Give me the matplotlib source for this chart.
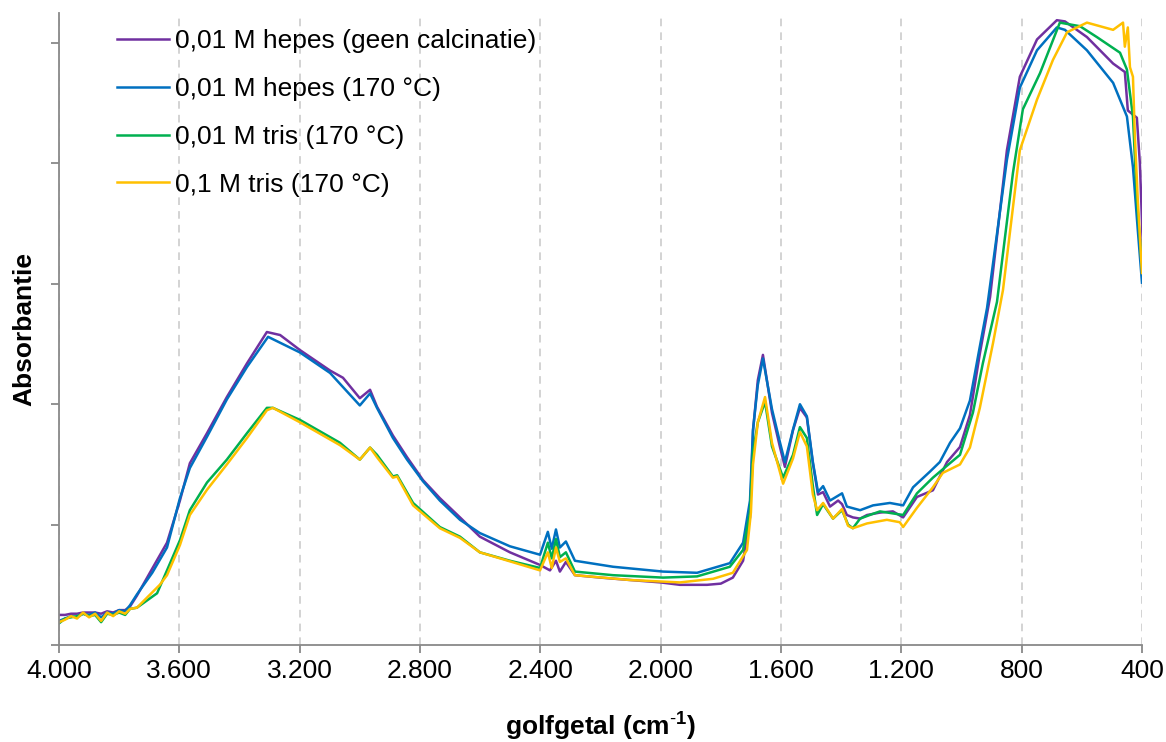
import matplotlib
matplotlib.use("Agg")
import matplotlib.pyplot as plt

plt.rcParams['font.family'] = ['Liberation Sans', 'DejaVu Sans']
plt.rcParams['mathtext.fontset'] = 'custom'
plt.rcParams['mathtext.rm'] = 'Liberation Sans'
plt.rcParams['mathtext.bf'] = 'Liberation Sans:bold'
plt.rcParams['mathtext.default'] = 'bf'

# ---- data (wavenumber in cm-1, absorbance in arbitrary units) ----
labels = ["0,01 M hepes (geen calcinatie)", "0,01 M hepes (170 °C)",
          "0,01 M tris (170 °C)", "0,1 M tris (170 °C)"]
colors = ["#7030A0", "#0070C0", "#00B050", "#FFC000"]

wn_hepes_raw = [4000,3980,3960,3940,3920,3900,3880,3860,3840,3820,3800,3780,3764,
    3741,3698,3641,3598,3565,3508,3442,3375,3309,3265,
    3199,3099,3056,3000,2966,2943,2890,2843,2790,2734,
    2667,2601,2501,2401,2368,2348,2335,2315,2285,2200,
    2102,2000,1936,1846,1800,1760,1726,1703,1693,1677,
    1660,1630,1603,1587,1560,1537,1514,1494,1477,1460,
    1437,1410,1397,1381,1361,1337,1314,1271,1228,1194,
    1148,1095,1048,1005,972,939,905,849,806,749,
    683,656,583,496,457,447,417,407,397]
abs_hepes_raw = [0.25,0.25,0.26,0.26,0.27,0.27,0.27,0.26,0.28,0.27,0.29,0.29,0.32,
    0.41,0.60,0.85,1.20,1.51,1.76,2.06,2.34,2.60,2.575,
    2.45,2.28,2.22,2.05,2.12,1.98,1.74,1.56,1.37,1.22,
    1.06,0.90,0.77,0.665,0.62,0.70,0.61,0.69,0.58,0.56,
    0.54,0.52,0.50,0.50,0.51,0.56,0.70,1.06,1.78,2.20,
    2.41,1.93,1.64,1.48,1.785,1.97,1.89,1.51,1.25,1.27,
    1.15,1.20,1.17,1.08,1.06,1.05,1.08,1.10,1.11,1.06,
    1.23,1.285,1.52,1.645,1.91,2.42,2.89,4.11,4.72,5.03,
    5.19,5.18,5.05,4.83,4.76,4.44,4.38,4.00,3.31]

wn_hepes_170 = [4000,3980,3960,3940,3920,3900,3880,3860,3840,3820,3800,3780,3764,
    3741,3690,3641,3598,3565,3508,3442,3375,3305,3199,
    3099,3000,2966,2943,2890,2843,2790,2734,2667,2601,
    2501,2401,2375,2362,2348,2335,2315,2285,2158,1992,
    1879,1770,1726,1703,1693,1677,1660,1630,1603,1587,
    1560,1537,1514,1494,1477,1460,1437,1397,1381,1337,
    1294,1238,1194,1161,1105,1072,1038,1005,972,939,
    915,849,806,749,683,656,583,496,473,450,
    430,414,400]
abs_hepes_170 = [0.20,0.22,0.24,0.23,0.26,0.25,0.27,0.23,0.27,0.26,0.29,0.28,0.33,
    0.42,0.60,0.81,1.22,1.47,1.73,2.04,2.31,2.56,2.43,
    2.26,1.99,2.09,1.97,1.72,1.54,1.36,1.20,1.04,0.93,
    0.82,0.75,0.94,0.80,0.96,0.81,0.86,0.70,0.65,0.61,
    0.60,0.68,0.85,1.20,1.79,2.16,2.38,1.96,1.68,1.52,
    1.79,2.00,1.90,1.52,1.27,1.32,1.20,1.26,1.15,1.12,
    1.16,1.18,1.16,1.31,1.44,1.52,1.68,1.80,2.03,2.48,
    2.80,4.03,4.63,4.94,5.13,5.11,4.94,4.67,4.53,4.39,
    3.97,3.45,3.01]

wn_tris001 = [4000,3980,3960,3940,3920,3900,3880,3860,3840,3820,3800,3780,3764,
    3741,3674,3641,3598,3565,3508,3442,3375,3309,3289,
    3199,3122,3066,3000,2966,2943,2890,2876,2823,2734,
    2667,2601,2501,2401,2375,2362,2348,2335,2315,2285,
    2158,1992,1879,1770,1726,1703,1693,1677,1653,1630,
    1593,1560,1537,1514,1494,1480,1460,1427,1397,1377,
    1361,1337,1294,1271,1194,1148,1095,1048,1005,962,
    929,882,829,796,739,673,606,550,473,450,
    430,417,400]
abs_tris001 = [0.18,0.22,0.23,0.24,0.26,0.24,0.25,0.19,0.26,0.25,0.27,0.25,0.30,
    0.31,0.43,0.62,0.87,1.12,1.35,1.54,1.76,1.97,1.97,
    1.87,1.76,1.68,1.54,1.64,1.58,1.40,1.41,1.18,0.98,
    0.90,0.77,0.70,0.64,0.85,0.72,0.88,0.73,0.77,0.61,
    0.58,0.56,0.57,0.65,0.79,1.10,1.60,1.85,2.02,1.65,
    1.39,1.58,1.81,1.72,1.32,1.08,1.17,1.05,1.12,1.00,
    0.97,1.05,1.09,1.11,1.08,1.26,1.39,1.49,1.58,1.93,
    2.34,2.85,3.92,4.45,4.75,5.17,5.14,5.05,4.92,4.78,
    4.39,3.70,3.14]

wn_tris01 = [4000,3980,3960,3940,3920,3900,3880,3860,3840,3820,3800,3780,3764,
    3741,3665,3641,3598,3565,3508,3442,3375,3309,3289,
    3199,3122,3066,3000,2966,2943,2890,2876,2823,2734,
    2667,2601,2401,2375,2362,2348,2335,2315,2285,2102,
    1936,1826,1760,1713,1700,1693,1677,1653,1630,1593,
    1560,1537,1514,1494,1480,1460,1427,1397,1377,1361,
    1314,1248,1205,1194,1148,1095,1062,1005,972,939,
    895,862,806,749,696,649,583,496,463,457,
    447,440,430,424,414,400]
abs_tris01 = [0.19,0.21,0.24,0.22,0.27,0.23,0.26,0.20,0.27,0.24,0.28,0.26,0.30,
    0.31,0.50,0.58,0.83,1.08,1.29,1.50,1.72,1.95,1.97,
    1.85,1.74,1.66,1.54,1.64,1.56,1.39,1.40,1.16,0.97,
    0.89,0.77,0.62,0.77,0.64,0.81,0.69,0.72,0.58,0.54,
    0.52,0.55,0.60,0.79,1.10,1.50,1.85,2.06,1.68,1.34,
    1.55,1.77,1.65,1.25,1.12,1.18,1.05,1.13,0.99,0.97,
    1.01,1.04,1.02,0.98,1.14,1.31,1.43,1.50,1.64,1.97,
    2.51,2.95,4.11,4.53,4.86,5.09,5.17,5.11,5.17,4.97,
    5.13,4.80,4.72,4.25,3.70,3.09]

x_ticks = [4000, 3600, 3200, 2800, 2400, 2000, 1600, 1200, 800, 400]
y_ticks = [0, 1, 2, 3, 4, 5]

series = [(wn_hepes_raw, abs_hepes_raw), (wn_hepes_170, abs_hepes_170),
          (wn_tris001, abs_tris001), (wn_tris01, abs_tris01)]

fig = plt.figure(figsize=(11.66, 7.42), dpi=100)
ax = fig.add_axes([0.0506, 0.1307, 0.9288, 0.8518])

for (x, y), lab, c in zip(series, labels, colors):
    ax.plot(x, y, color=c, lw=1.8, label=lab, solid_joinstyle='round')

ax.set_xlim(4000, 400)
ax.set_ylim(0, 5.25)
ax.set_xticks(x_ticks)
ax.set_xticklabels([f"{v:,}".replace(",", ".") for v in x_ticks])
ax.set_yticks(y_ticks)
ax.set_yticklabels([])

ax.grid(axis='x', color='#c8c8c8', ls=(0, (5, 4)), lw=1.1)
ax.set_axisbelow(True)
for s in ['top', 'right']:
    ax.spines[s].set_visible(False)
for s in ['left', 'bottom']:
    ax.spines[s].set_color('#898989')
    ax.spines[s].set_linewidth(1.3)

ax.tick_params(axis='both', direction='out', length=6, width=1.3,
               color='#898989', labelsize=19, labelcolor='black')
ax.tick_params(axis='x', pad=4)

ax.set_xlabel(r"golfgetal (cm$^{\text{-}1}$)", fontsize=19, fontweight='bold', labelpad=20)
ax.set_ylabel("Absorbantie", fontsize=19, fontweight='bold', labelpad=7)

leg = ax.legend(loc='upper left', bbox_to_anchor=(0.0536, 0.974), frameon=False,
                fontsize=19, handlelength=1.95, handletextpad=0.25,
                labelspacing=0.9, borderpad=0, borderaxespad=0)

fig.savefig("out.png", dpi=100)
